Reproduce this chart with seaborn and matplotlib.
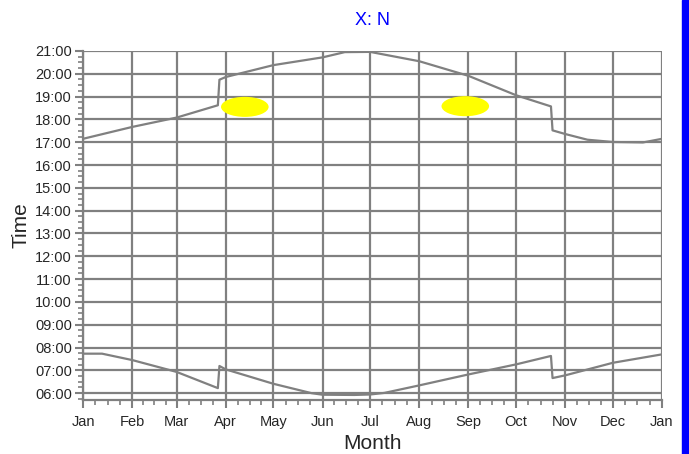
import numpy as np
import pandas as pd
import seaborn as sns
import matplotlib.pyplot as plt
from matplotlib.patches import Ellipse, Rectangle
from matplotlib.ticker import FixedLocator, MultipleLocator, FuncFormatter

# month starts (day of year) and labels
month_days = [0, 31, 59, 90, 120, 151, 181, 212, 243, 273, 304, 334, 365]
month_labels = ["Jan", "Feb", "Mar", "Apr", "May", "Jun", "Jul",
                "Aug", "Sep", "Oct", "Nov", "Dec", "Jan"]

# sunset (upper curve): day of year, hours
sunset_day = [0, 31, 59, 85, 86, 90, 120, 151, 165, 181, 212, 243, 273, 295, 296, 304, 318, 334, 353, 365]
sunset_hr = [17.15, 17.67, 18.08, 18.62, 19.74, 19.86, 20.38, 20.72, 20.95, 20.96, 20.55, 19.91, 19.06, 18.57,
             17.52, 17.36, 17.11, 17.01, 16.99, 17.15]

# sunrise (lower curve)
sunrise_day = [0, 12, 31, 59, 85, 86, 90, 120, 144, 151, 171, 181, 190, 212, 243, 273, 295, 296, 304, 334, 365]
sunrise_hr = [7.73, 7.73, 7.45, 6.93, 6.22, 7.19, 7.04, 6.41, 6.0, 5.93, 5.92, 5.94, 6.01, 6.34, 6.82, 7.26,
              7.63, 6.66, 6.78, 7.33, 7.7]

# yellow markers (day of year, hour)
marker_day = [102, 241]
marker_hr = [18.55, 18.58]

grey = "#808080"

sns.set_style("white")
plt.rcParams["font.family"] = ["Liberation Sans", "DejaVu Sans"]

fig = plt.figure(figsize=(6.89, 4.54), dpi=100)
ax = fig.add_axes([0.1205, 0.119, 0.8403, 0.7687])

df = pd.concat([
    pd.DataFrame({"day": sunset_day, "hour": sunset_hr, "kind": "sunset"}),
    pd.DataFrame({"day": sunrise_day, "hour": sunrise_hr, "kind": "sunrise"}),
])
sns.lineplot(data=df, x="day", y="hour", units="kind", estimator=None,
             color=grey, lw=1.6, sort=False, ax=ax, zorder=3)

for d, h in zip(marker_day, marker_hr):
    ax.add_patch(Ellipse((d, h), width=30, height=0.88, color="#ffff00", lw=0, zorder=4))

ax.set_xlim(0, 365)
ax.set_ylim(5.7, 21)

ax.xaxis.set_major_locator(FixedLocator(month_days))
ax.set_xticklabels(month_labels, fontsize=10.5)
minor_x = []
for a, b in zip(month_days[:-1], month_days[1:]):
    minor_x += [a + (b - a) * f for f in (0.25, 0.5, 0.75)]
ax.xaxis.set_minor_locator(FixedLocator(minor_x))

ax.set_yticks(range(6, 22))
ax.yaxis.set_major_formatter(FuncFormatter(lambda v, p: f"{int(v):02d}:00"))
ax.yaxis.set_minor_locator(MultipleLocator(0.25))
ax.tick_params(axis="y", labelsize=10.5)

ax.tick_params(which="major", direction="out", length=6, width=1.5, color=grey, pad=2)
ax.tick_params(which="minor", direction="out", length=3.5, width=1.2, color=grey)
ax.tick_params(axis="x", which="both", bottom=True)
ax.tick_params(axis="y", which="both", left=True)
ax.tick_params(axis="x", which="major", pad=4.5)

ax.grid(True, which="major", color=grey, lw=1.6)
sns.despine(ax=ax)
for s in ("left", "bottom"):
    ax.spines[s].set_color(grey)
    ax.spines[s].set_linewidth(1.6)

ax.set_xlabel("Month", fontsize=15, labelpad=4)
ax.set_ylabel("Time", fontsize=15, labelpad=3)
ax.set_title("X: N", color="#0000ff", fontsize=13, pad=19)

# blue bar on the right edge
fig.patches.append(Rectangle((682 / 689, 0), 7 / 689, 1, transform=fig.transFigure,
                             color="#0000ff", zorder=10))

fig.savefig("out.png", dpi=100)
